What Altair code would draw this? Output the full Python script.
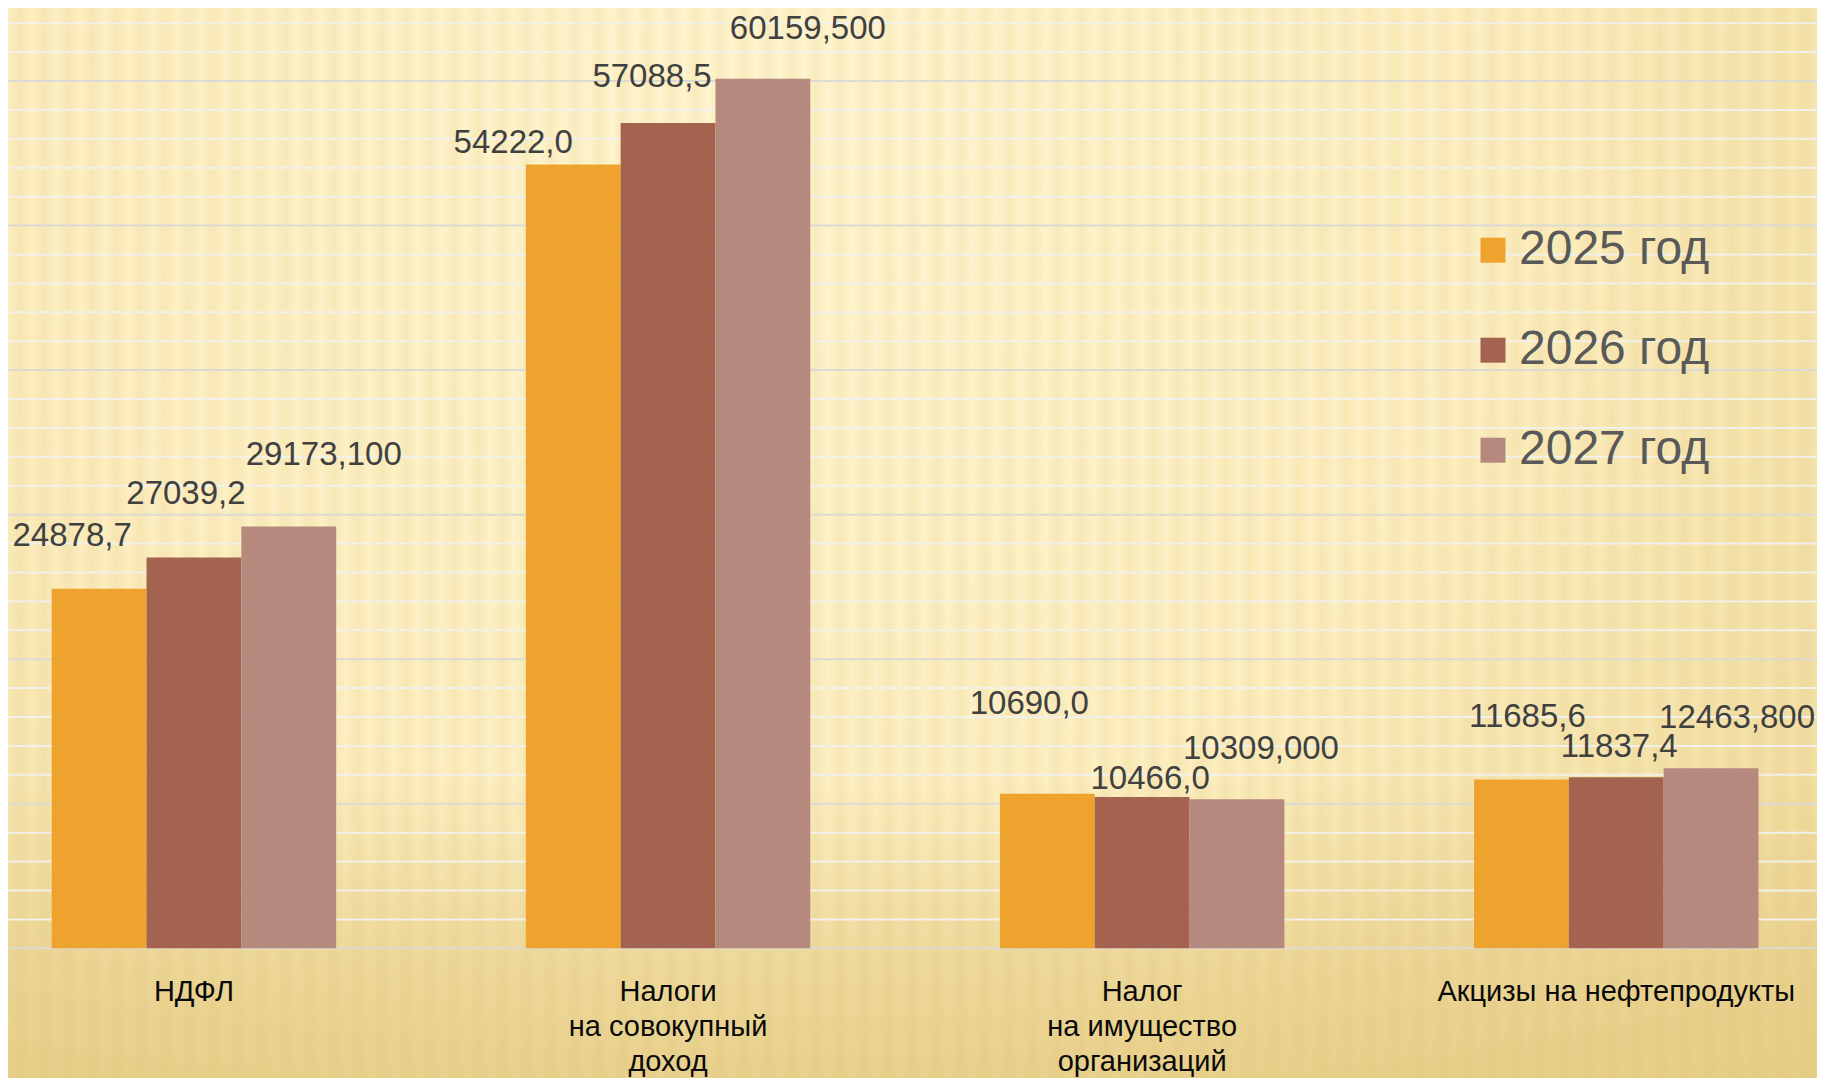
import altair as alt
import pandas as pd

# ---------------- data ----------------
categories = ["НДФЛ",
              "Налоги\nна совокупный\nдоход",
              "Налог\nна имущество\nорганизаций",
              "Акцизы на нефтепродукты"]
years = ["2025 год", "2026 год", "2027 год"]
values_2025 = [24878.7, 54222.0, 10690.0, 11685.6]
values_2026 = [27039.2, 57088.5, 10466.0, 11837.4]
values_2027 = [29173.1, 60159.5, 10309.0, 12463.8]
labels_2025 = ["24878,7", "54222,0", "10690,0", "11685,6"]
labels_2026 = ["27039,2", "57088,5", "10466,0", "11837,4"]
labels_2027 = ["29173,100", "60159,500", "10309,000", "12463,800"]
grid_major = [0, 10000, 20000, 30000, 40000, 50000, 60000]
grid_minor = [2000, 4000, 6000, 8000, 12000, 14000, 16000, 18000,
              22000, 24000, 26000, 28000, 32000, 34000, 36000, 38000,
              42000, 44000, 46000, 48000, 52000, 54000, 56000, 58000,
              62000, 64000]

# label placement (pixel offsets of each value label from its bar top centre)
label_dx_2025 = [-27, -60, -18, 6]
label_dx_2026 = [-8, -16, 8, 3]
label_dx_2027 = [35, 45, 24, 26]
label_dy_2025 = [-43, -12, -80, -52]
label_dy_2026 = [-53, -36, -8, -20]
label_dy_2027 = [-62, -40, -40, -40]

colors = ["#EEA32E", "#A4634E", "#B5897D"]

rows = []
for vals, labs, dxs, dys, yr in [
    (values_2025, labels_2025, label_dx_2025, label_dy_2025, years[0]),
    (values_2026, labels_2026, label_dx_2026, label_dy_2026, years[1]),
    (values_2027, labels_2027, label_dx_2027, label_dy_2027, years[2]),
]:
    for c, v, l, dx, dy in zip(categories, vals, labs, dxs, dys):
        rows.append({"cat": c, "year": yr, "value": v, "label": l, "dx": dx, "dy": dy})
df = pd.DataFrame(rows)

# ---------------- layout ----------------
W = 1794.2
H = 925.1
PAD_L, PAD_T, PAD_R, PAD_B = 0, 15.2, 14.8, 129.7
YDOM = [0, 64000]

yscale = alt.Scale(domain=YDOM, nice=False, zero=True)

x_enc = alt.X(
    "cat:N", sort=categories,
    scale=alt.Scale(paddingInner=0.4, paddingOuter=0.0922),
    axis=alt.Axis(
        title=None, orient="bottom", domain=False, ticks=False, tickSize=0,
        grid=False, labelAngle=0, labelAlign="center", labelBaseline="alphabetic",
        labelPadding=52, labelLineHeight=35, labelFontSize=29,
        labelFont="Liberation Sans", labelColor="#0A0A0A", labelLimit=0,
        labelOverlap=False, labelExpr="split(datum.label, '\\n')", zindex=2,
    ),
)
xoff_enc = alt.XOffset("year:N", sort=years,
                       scale=alt.Scale(paddingInner=0, paddingOuter=0))

# ---------------- background decoration ----------------
def bg_rect(fill):
    return alt.Chart(pd.DataFrame({"bg": [0]})).mark_rect(fill=fill).encode(
        x=alt.value(-PAD_L), x2=alt.value(W + PAD_R),
        y=alt.value(-PAD_T), y2=alt.value(H + PAD_B),
    )

bg_radial = bg_rect(alt.Gradient(
    gradient="radial",
    stops=[alt.GradientStop(color="#FFF5D0", offset=0),
           alt.GradientStop(color="#FDEFC2", offset=0.45),
           alt.GradientStop(color="#EFDA9B", offset=0.85),
           alt.GradientStop(color="#E5CC87", offset=1)],
    x1=0.42, y1=0.27, r1=0, x2=0.42, y2=0.27, r2=0.9,
))

bg_bottom = bg_rect(alt.Gradient(
    gradient="linear",
    stops=[alt.GradientStop(color="rgba(228,202,130,0)", offset=0),
           alt.GradientStop(color="rgba(228,202,130,0)", offset=0.72),
           alt.GradientStop(color="rgba(228,202,130,0.55)", offset=0.9),
           alt.GradientStop(color="rgba(228,202,130,0.75)", offset=1)],
    x1=0, y1=0, x2=0, y2=1,
))

STRIPE_PERIOD = 24
n_stripes = int((W + PAD_R) / STRIPE_PERIOD)
stripe_stops = []
for i in range(n_stripes):
    stripe_stops.append(alt.GradientStop(color="rgba(215,185,100,0)", offset=i / n_stripes))
    stripe_stops.append(alt.GradientStop(color="rgba(215,185,100,0.16)", offset=(i + 0.5) / n_stripes))
stripe_stops.append(alt.GradientStop(color="rgba(215,185,100,0)", offset=1))
bg_stripes = bg_rect(alt.Gradient(gradient="linear", stops=stripe_stops,
                                  x1=0, y1=0, x2=1, y2=0))

grid_minor_layer = alt.Chart(pd.DataFrame({"v": grid_minor})).mark_rule(
    stroke="#F2F0EA", strokeWidth=2
).encode(
    y=alt.Y("v:Q", scale=yscale, axis=None),
    x=alt.value(-PAD_L), x2=alt.value(W + PAD_R),
)
grid_major_layer = alt.Chart(pd.DataFrame({"v": grid_major})).mark_rule(
    stroke="#DCDAD4", strokeWidth=2
).encode(
    y=alt.Y("v:Q", scale=yscale, axis=None),
    x=alt.value(-PAD_L), x2=alt.value(W + PAD_R),
)

bars = alt.Chart(df).mark_bar().encode(
    x=x_enc,
    xOffset=xoff_enc,
    y=alt.Y("value:Q", scale=yscale, axis=None),
    color=alt.Color(
        "year:N", sort=years,
        scale=alt.Scale(domain=years, range=colors),
        legend=alt.Legend(
            title=None, orient="none", legendX=1461, legendY=203,
            symbolType="square", symbolSize=625, symbolStrokeWidth=0,
            symbolOpacity=1, labelFontSize=48, labelFont="Liberation Sans",
            labelColor="#595959", labelOffset=2, rowPadding=52, labelLimit=0,
            padding=0,
        ),
    ),
)

texts = alt.Chart(df).mark_text(
    align="center", baseline="alphabetic", fontSize=33,
    font="Liberation Sans", color="#404040",
    dx=alt.expr("datum.dx"), dy=alt.expr("datum.dy"),
).encode(
    x=x_enc,
    xOffset=xoff_enc,
    y=alt.Y("value:Q", scale=yscale, axis=None),
    text="label:N",
)

chart = alt.layer(bg_radial, bg_bottom, bg_stripes, grid_minor_layer,
                  grid_major_layer, bars, texts).properties(
    width=W, height=H,
    padding={"left": PAD_L, "top": PAD_T, "right": PAD_R, "bottom": PAD_B},
    autosize=alt.AutoSizeParams(type="none"),
    background="#F2DEA2",
).configure_view(stroke=None)

chart.save("out.html", embed_options={"renderer": "svg", "actions": False})
